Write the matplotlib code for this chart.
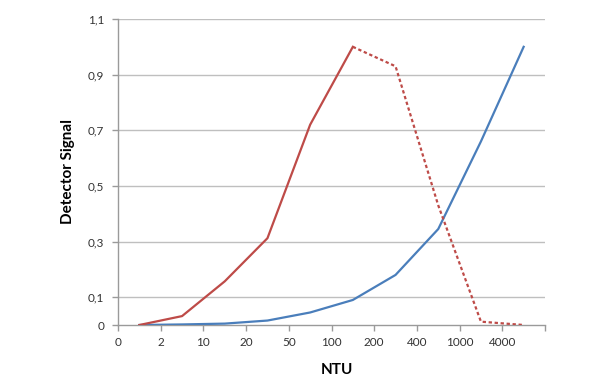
import matplotlib
matplotlib.use("Agg")
import matplotlib.pyplot as plt

# Data
categories = ["0", "2", "10", "20", "50", "100", "200", "400", "1000", "4000"]
x_pos = [0.5, 1.5, 2.5, 3.5, 4.5, 5.5, 6.5, 7.5, 8.5, 9.5]
red_solid_x = [0.5, 1.5, 2.5, 3.5, 4.5, 5.5]
red_solid = [0.0, 0.032, 0.157, 0.312, 0.72, 1.0]
red_dashed_x = [5.5, 6.5, 7.5, 8.5, 9.5]
red_dashed = [1.0, 0.93, 0.43, 0.012, 0.0]
blue = [0.0, 0.002, 0.005, 0.016, 0.045, 0.09, 0.18, 0.345, 0.66, 1.0]
y_ticks = [0, 0.1, 0.3, 0.5, 0.7, 0.9, 1.1]
y_labels = ["0", "0,1", "0,3", "0,5", "0,7", "0,9", "1,1"]

plt.rcParams['font.family'] = ['Lato', 'DejaVu Sans']

fig = plt.figure(figsize=(6.12, 3.87), dpi=100)
ax = fig.add_axes([118/612, 1-325/387, (545-118)/612, (325-19)/387])

grid_c = "#BFBFBF"
for y in y_ticks[1:]:
    ax.axhline(y, color=grid_c, lw=1.0, zorder=0)

red = "#BE4B48"
bl = "#4A7EBB"
ax.plot(x_pos, blue, color=bl, lw=1.6, zorder=3)
ax.plot(red_solid_x, red_solid, color=red, lw=1.6, zorder=3)
ax.plot(red_dashed_x, red_dashed, color=red, lw=1.6, ls=(0, (1.5, 1.2)), zorder=3)

ax.set_xlim(0, 10)
ax.set_ylim(0, 1.1)
ax.set_xticks(range(0, 11))
ax.set_xticklabels(categories + [""])
ax.set_yticks(y_ticks)
ax.set_yticklabels(y_labels)

for s in ["top", "right"]:
    ax.spines[s].set_visible(False)
for s in ["left", "bottom"]:
    ax.spines[s].set_color("#9A9A9A")
    ax.spines[s].set_linewidth(1.0)

ax.tick_params(axis="both", colors="#9A9A9A", length=4, width=1, labelsize=8.5, labelcolor="#333333")
ax.tick_params(axis="y", pad=6)
ax.tick_params(axis="x", pad=5)

ax.set_xlabel("NTU", fontsize=11, fontweight="bold", labelpad=9)
ax.xaxis.set_label_coords((337-118)/(545-118), -0.125)
ax.set_ylabel("Detector Signal", fontsize=11, fontweight="bold", labelpad=9)

fig.savefig("out.png", dpi=100)
